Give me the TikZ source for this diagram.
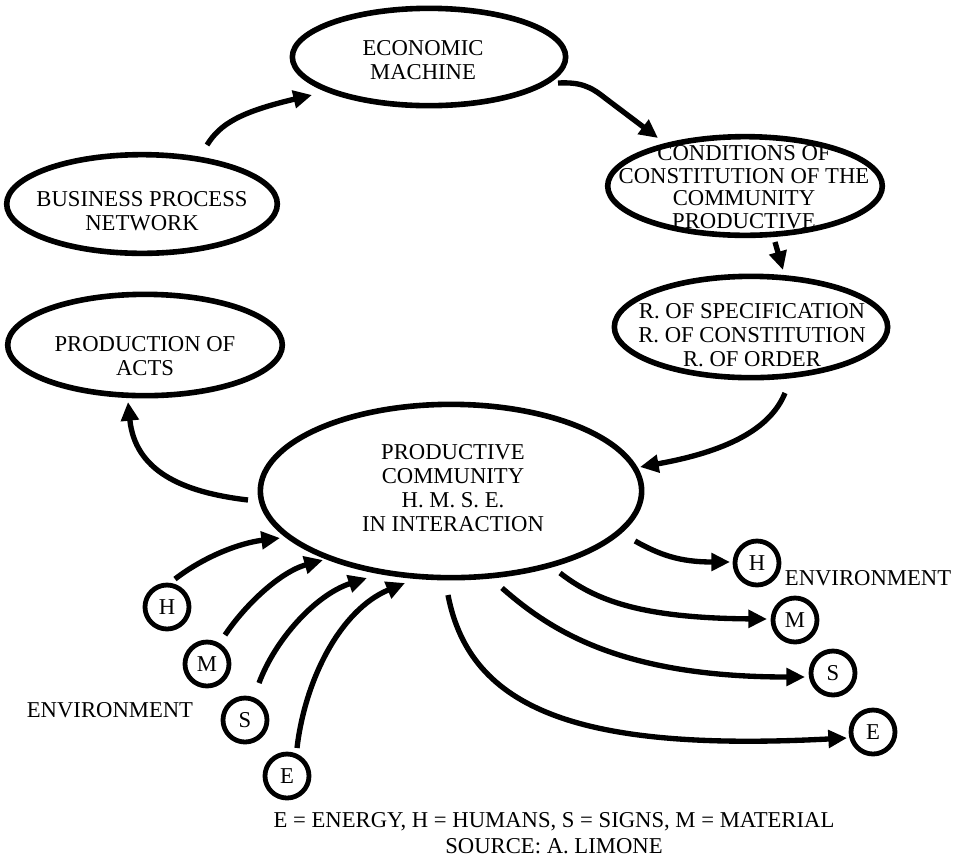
\documentclass[tikz,border=0pt]{standalone}
\usepackage{fontspec}
\setmainfont{Liberation Serif}
\usetikzlibrary{arrows.meta,shapes.geometric}
\begin{document}
\begin{tikzpicture}[x=0.75pt,y=-0.75pt,
  every node/.style={font=\fontsize{17}{18}\selectfont, align=center, inner sep=0pt},
  oval/.style={draw, ellipse, line width=4.2pt},
  envc/.style={draw, circle, line width=3.6pt, minimum size=33pt},
  arr/.style={line width=4pt, -{Triangle[length=14pt,width=13pt]}}]
\useasboundingbox (0,0) rectangle (953,858);
% ellipses
\node[oval, minimum width=205pt, minimum height=73pt] (econ) at (429,57) {};
\node[oval, minimum width=203pt, minimum height=74pt] (bpn) at (142,204) {};
\node[oval, minimum width=206pt, minimum height=76pt] (poa) at (145,345) {};
\node[oval, minimum width=206pt, minimum height=74pt] (cond) at (745,186) {};
\node[oval, minimum width=205pt, minimum height=76pt] (rspec) at (751,327) {};
\node[oval, minimum width=286pt, minimum height=130pt] (prod) at (451,491) {};
% texts
\node (econT) at (423,60) {ECONOMIC\\MACHINE};
\node (bpnT) at (142,211) {BUSINESS PROCESS\\NETWORK};
\node (poaT) at (145,356) {PRODUCTION OF\\ACTS};
\node[font=\fontsize{17}{17}\selectfont] (condT) at (744,187) {CONDITIONS OF\\CONSTITUTION OF THE\\COMMUNITY\\PRODUCTIVE};
\node (rspecT) at (752,335) {R. OF SPECIFICATION\\R. OF CONSTITUTION\\R. OF ORDER};
\node (prodT) at (453,488) {PRODUCTIVE\\COMMUNITY\\H. M. S. E.\\IN INTERACTION};
% circles
\node[envc] (lH) at (167,607) {H};
\node[envc] (lM) at (207,664) {M};
\node[envc] (lS) at (245,720) {S};
\node[envc] (lE) at (287,776) {E};
\node[envc] (rH) at (757,563) {H};
\node[envc] (rM) at (795,620) {M};
\node[envc] (rS) at (833,673) {S};
\node[envc] (rE) at (873,732) {E};
% labels
\node (envL) at (110,710) {ENVIRONMENT};
\node (envR) at (868,578) {ENVIRONMENT};
\node (legend) at (554,822) {E = ENERGY, H = HUMANS, S = SIGNS, M = MATERIAL};
\node (source) at (554,846) {SOURCE: A. LIMONE};
% cycle arrows
\draw[arr] ([shift={(65,-59)}]bpn.center) .. controls (220,124) and (240,112) .. ([shift={(-117,38)}]econ.center);
\draw[arr] ([shift={(129,26)}]econ.center) .. controls (580,82) and (590,86) .. (605,98) -- ([shift={(-87,-48)}]cond.center);
\draw[arr] ([shift={(30,56)}]cond.center) -- ([shift={(32,-57)}]rspec.center);
\draw[arr] ([shift={(34,66)}]rspec.center) .. controls (772,425) and (735,450) .. ([shift={(189,-24)}]prod.center);
\draw[arr] ([shift={(-203,9)}]prod.center) .. controls (180,492) and (135,470) .. ([shift={(-17,57)}]poa.center);
% inputs
\draw[arr] ([shift={(8,-28)}]lH.center) .. controls (205,556) and (240,543) .. ([shift={(-171,47)}]prod.center);
\draw[arr] ([shift={(18,-29)}]lM.center) .. controls (245,605) and (280,572) .. ([shift={(-128,69)}]prod.center);
\draw[arr] ([shift={(14,-37)}]lS.center) .. controls (275,640) and (315,595) .. ([shift={(-84,87)}]prod.center);
\draw[arr] ([shift={(10,-28)}]lE.center) .. controls (305,680) and (340,610) .. ([shift={(-46,92)}]prod.center);
% outputs
\draw[arr] ([shift={(184,50)}]prod.center) .. controls (660,555) and (680,562) .. ([shift={(-27,-1)}]rH.center);
\draw[arr] ([shift={(109,82)}]prod.center) .. controls (595,600) and (640,618) .. ([shift={(-28,-1)}]rM.center);
\draw[arr] ([shift={(51,97)}]prod.center) .. controls (550,630) and (620,677) .. ([shift={(-28,4)}]rS.center);
\draw[arr] ([shift={(-3,104)}]prod.center) .. controls (470,710) and (580,752) .. ([shift={(-26,6)}]rE.center);
\end{tikzpicture}
\end{document}
